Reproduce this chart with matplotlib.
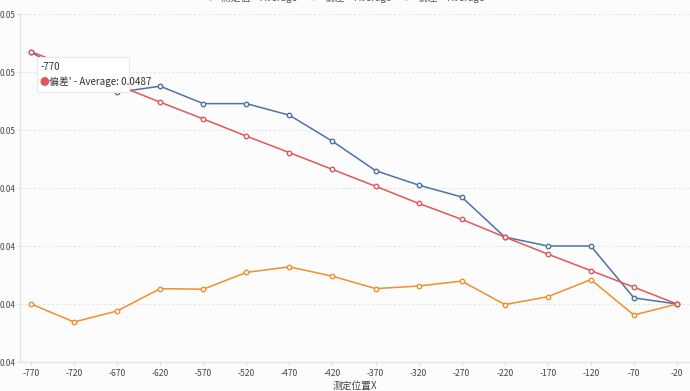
import matplotlib
matplotlib.use("Agg")
import matplotlib.pyplot as plt
from matplotlib.patches import Rectangle
from matplotlib.ticker import FormatStrFormatter, MultipleLocator

plt.rcParams['font.family'] = ['Noto Sans CJK SC', 'DejaVu Sans']

x_pos = [-770, -720, -670, -620, -570, -520, -470, -420, -370, -320,
         -270, -220, -170, -120, -70, -20]
blue_vals = [0.04869, 0.0478, 0.04730, 0.04751, 0.04691, 0.04691, 0.04651, 0.04561,
             0.04460, 0.04410, 0.04369, 0.04231, 0.04200, 0.04200, 0.04021, 0.04000]
orange_vals = [0.04000, 0.03938, 0.03976, 0.04053, 0.04051, 0.04109, 0.04128, 0.04096,
               0.04053, 0.04062, 0.04079, 0.03998, 0.04025, 0.04084, 0.03962, 0.04000]
red_vals = [0.0487, 0.04813, 0.04755, 0.04696, 0.04638, 0.04579, 0.04522, 0.04464,
            0.04406, 0.04347, 0.04292, 0.04231, 0.04172, 0.04115, 0.04058, 0.04000]
series_names = ["测定值' - Average", "偏差' - Average", "偏差' - Average"]
colors = ['#4a74a6', '#f28e2b', '#e15759']

W, H = 690, 391
bg = '#fcfcfc'
fig = plt.figure(figsize=(6.9, 3.91), dpi=100, facecolor=bg)
ax = fig.add_axes([20 / W, 1 - 362 / H, 1 - 20 / W, (362 - 14) / H])
ax.set_facecolor(bg)

for vals, c, name in zip([blue_vals, orange_vals, red_vals], colors, series_names):
    ax.plot(x_pos, vals, color=c, lw=1.1, marker='o', ms=3.2,
            mfc='white', mec=c, mew=1.0, label=name, zorder=3)

ax.set_xlim(-782.8, -4.9)
ax.set_ylim(0.038, 0.050)
ax.yaxis.set_major_locator(MultipleLocator(0.002))
ax.yaxis.set_major_formatter(FormatStrFormatter('%.2f'))
ax.set_xticks(x_pos)
ax.set_xticklabels([str(v) for v in x_pos])
ax.grid(axis='y', color='#e3e3e3', ls=(0, (2, 2)), lw=0.8)
ax.grid(axis='x', visible=False)

for s in ['top', 'right']:
    ax.spines[s].set_visible(False)
ax.spines['left'].set_color('#dde3ea')
ax.spines['bottom'].set_color('#dde3ea')
ax.tick_params(axis='y', labelsize=5.8, colors='#dde3ea', labelcolor='#444444',
               length=2, width=0.8, pad=1)
ax.tick_params(axis='x', labelsize=6.2, colors='#dde3ea', labelcolor='#444444',
               length=3, width=0.8, pad=2)
ax.set_xlabel('测定位置X', fontsize=7, color='#444444', labelpad=2)

# legend partly cut off at the top edge, as in the reference
fig.legend(loc='center', bbox_to_anchor=(0.5, 1.007), ncol=3, frameon=False,
           fontsize=7, handlelength=0.8, columnspacing=1.2, labelcolor='#555555')

# tooltip box (pixel layout)
fig.patches.append(Rectangle((37 / W, 1 - 92 / H), 92 / W, 35 / H,
                             transform=fig.transFigure, fc='white', ec='#e8e8e8',
                             lw=0.8, zorder=10))
fig.text(41 / W, 1 - 67 / H, '-770', fontsize=7, color='#333333',
         va='center', ha='left', zorder=11)
fig.text(40 / W, 1 - 82 / H, '\u25CF', fontsize=7, color=colors[2],
         va='center', ha='left', zorder=11)
fig.text(49 / W, 1 - 82 / H, "偏差' - Average: 0.0487", fontsize=7.1, color='#333333',
         va='center', ha='left', zorder=11)

fig.savefig('out.png', dpi=100, facecolor=bg)
